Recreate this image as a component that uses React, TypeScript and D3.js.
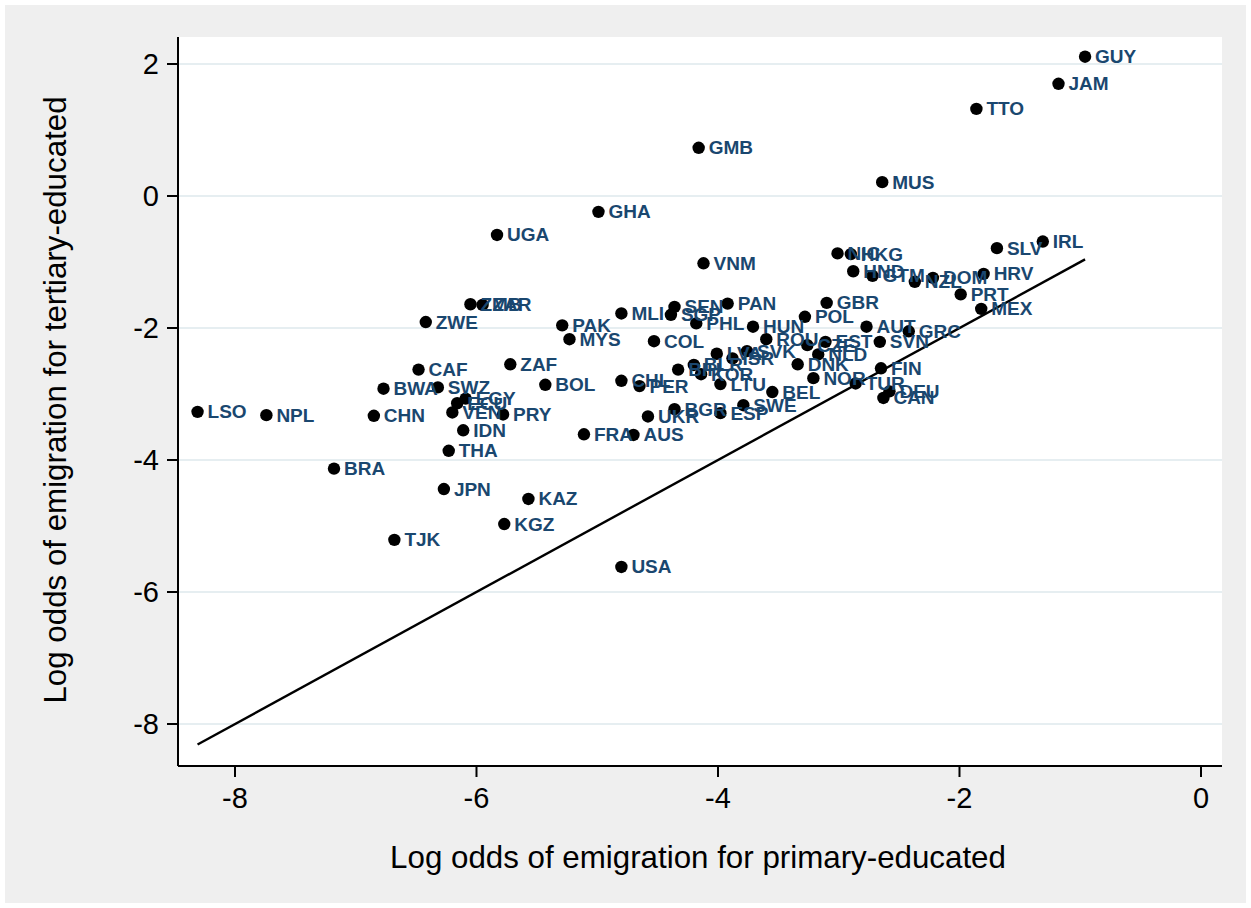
import * as d3 from 'd3';
import React from 'react';

// country codes and log odds of emigration
const countries = [
  'LSO', 'NPL', 'BRA', 'CHN', 'BWA', 'CAF', 'ZWE', 'SWZ', 'TJK', 'JPN',
  'THA', 'VEN', 'ECU', 'IDN', 'EGY', 'ZMB', 'ZAR', 'UGA', 'PRY', 'KGZ',
  'ZAF', 'KAZ', 'BOL', 'PAK', 'MYS', 'FRA', 'GHA', 'MLI', 'CHL', 'USA',
  'AUS', 'PER', 'UKR', 'COL', 'SGP', 'BGR', 'SEN', 'BIH', 'BLR', 'PHL',
  'GMB', 'KOR', 'VNM', 'LVA', 'LTU', 'ESP', 'PAN', 'ISR', 'SWE', 'SVK',
  'HUN', 'ROU', 'BEL', 'DNK', 'POL', 'CZE', 'NOR', 'NLD', 'EST', 'GBR',
  'NIC', 'HKG', 'HND', 'TUR', 'AUT', 'GTM', 'SVN', 'FIN', 'MUS', 'CAN',
  'DEU', 'GRC', 'NZL', 'DOM', 'PRT', 'TTO', 'MEX', 'HRV', 'SLV', 'IRL',
  'JAM', 'GUY',
];
const primary = [
  -8.31, -7.74, -7.18, -6.85, -6.77, -6.48, -6.42, -6.32, -6.68, -6.27,
  -6.23, -6.2, -6.16, -6.11, -6.09, -6.05, -5.95, -5.83, -5.78, -5.77,
  -5.72, -5.57, -5.43, -5.29, -5.23, -5.11, -4.99, -4.8, -4.8, -4.8,
  -4.7, -4.65, -4.58, -4.53, -4.39, -4.36, -4.36, -4.33, -4.2, -4.18,
  -4.16, -4.14, -4.12, -4.01, -3.98, -3.98, -3.92, -3.88, -3.79, -3.76,
  -3.71, -3.6, -3.55, -3.34, -3.28, -3.26, -3.21, -3.17, -3.11, -3.1,
  -3.01, -2.9, -2.88, -2.86, -2.77, -2.72, -2.66, -2.65, -2.64, -2.63,
  -2.58, -2.42, -2.37, -2.22, -1.99, -1.86, -1.82, -1.8, -1.69, -1.31,
  -1.18, -0.96,
];
const tertiary = [
  -3.27, -3.32, -4.13, -3.33, -2.92, -2.63, -1.91, -2.9, -5.21, -4.44,
  -3.86, -3.28, -3.14, -3.55, -3.07, -1.64, -1.65, -0.59, -3.31, -4.97,
  -2.55, -4.59, -2.86, -1.96, -2.17, -3.61, -0.24, -1.78, -2.8, -5.62,
  -3.62, -2.88, -3.34, -2.2, -1.8, -3.23, -1.68, -2.63, -2.56, -1.93,
  0.73, -2.7, -1.02, -2.39, -2.85, -3.29, -1.63, -2.46, -3.17, -2.35,
  -1.98, -2.17, -2.97, -2.55, -1.83, -2.26, -2.76, -2.4, -2.21, -1.62,
  -0.87, -0.88, -1.14, -2.84, -1.98, -1.21, -2.21, -2.61, 0.21, -3.06,
  -2.96, -2.05, -1.3, -1.24, -1.49, 1.32, -1.71, -1.18, -0.79, -0.69,
  1.7, 2.11,
];
const xTicks = [-8, -6, -4, -2, 0];
const yTicks = [2, 0, -2, -4, -6, -8];

const W = 1251;
const H = 908;
const plot = { left: 178, right: 1222, top: 37, bottom: 766 };
const font = '"Liberation Sans", Arial, Helvetica, sans-serif';
const navy = '#1a476f';

export default function App() {
  const x = d3.scaleLinear().domain([-8.472, 0.174]).range([plot.left, plot.right]);
  const y = d3.scaleLinear().domain([-8.636, 2.409]).range([plot.bottom, plot.top]);

  const points = countries.map((c, i) => ({ c, px: primary[i], ty: tertiary[i] }));

  // 45 degree line over the range of the data
  const [lo, hi] = d3.extent(primary) as [number, number];
  const diag = d3.line<number>().x(v => x(v)).y(v => y(v))([lo, hi]) ?? '';

  return (
    <svg
      width={W}
      height={H}
      style={{ position: 'absolute', left: 0, top: 0 }}
      fontFamily={font}
    >
      <rect width={W} height={H} fill="#ffffff" />
      <rect x={5} y={5} width={W - 10} height={H - 10} fill="#efefef" />
      <rect
        x={plot.left}
        y={plot.top}
        width={plot.right - plot.left}
        height={plot.bottom - plot.top}
        fill="#ffffff"
      />

      {/* grid lines */}
      {yTicks.map(t => (
        <line
          key={'g' + t}
          x1={plot.left}
          x2={plot.right}
          y1={y(t)}
          y2={y(t)}
          stroke="#e6eef1"
          strokeWidth={2}
        />
      ))}

      <path d={diag} stroke="#000" strokeWidth={2.4} fill="none" />

      {/* markers */}
      {points.map(p => (
        <circle key={'m' + p.c} cx={x(p.px)} cy={y(p.ty)} r={6.2} fill="#000" />
      ))}
      {/* labels */}
      {points.map(p => (
        <text
          key={'t' + p.c}
          x={x(p.px) + 10}
          y={y(p.ty)}
          dominantBaseline="central"
          fontSize={19}
          fontWeight="bold"
          fill={navy}
        >
          {p.c}
        </text>
      ))}

      {/* axes */}
      <line x1={plot.left} x2={plot.left} y1={plot.top} y2={plot.bottom} stroke="#000" strokeWidth={2} />
      <line x1={plot.left} x2={plot.right} y1={plot.bottom} y2={plot.bottom} stroke="#000" strokeWidth={2} />
      {yTicks.map(t => (
        <g key={'y' + t}>
          <line x1={plot.left - 11} x2={plot.left} y1={y(t)} y2={y(t)} stroke="#000" strokeWidth={2} />
          <text
            x={plot.left - 19}
            y={y(t)}
            textAnchor="end"
            dominantBaseline="central"
            fontSize={29}
          >
            {t}
          </text>
        </g>
      ))}
      {xTicks.map(t => (
        <g key={'x' + t}>
          <line x1={x(t)} x2={x(t)} y1={plot.bottom} y2={plot.bottom + 11} stroke="#000" strokeWidth={2} />
          <text x={x(t)} y={plot.bottom + 32} textAnchor="middle" dominantBaseline="central" fontSize={29}>
            {t}
          </text>
        </g>
      ))}

      <text x={698} y={857} textAnchor="middle" dominantBaseline="central" fontSize={31.3}>
        Log odds of emigration for primary-educated
      </text>
      <text
        transform="translate(55,400) rotate(-90)"
        textAnchor="middle"
        dominantBaseline="central"
        fontSize={31.3}
      >
        Log odds of emigration for tertiary-educated
      </text>
    </svg>
  );
}
